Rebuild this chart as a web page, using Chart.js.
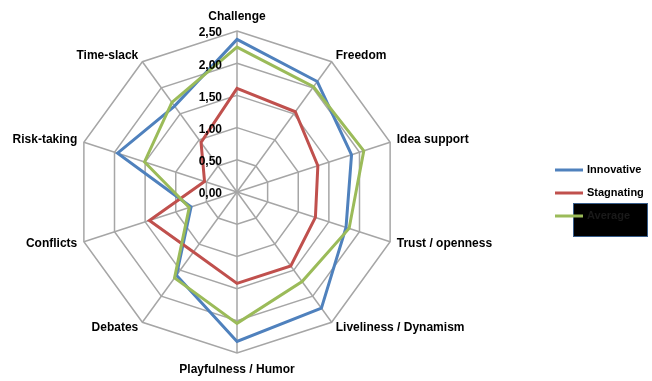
<!DOCTYPE html>
<html>
<head>
<meta charset="utf-8">
<script src="https://cdn.jsdelivr.net/npm/chart.js@4/dist/chart.umd.min.js"></script>
<style>
  html, body { margin: 0; padding: 0; background: #fff; }
  #wrap { width: 652px; height: 381px; }
</style>
</head>
<body>
<div id="wrap"><canvas id="chart" width="652" height="381"></canvas></div>
<script>
// categories around the radar, clockwise from the top
const categories = [
  "Challenge",
  "Freedom",
  "Idea support",
  "Trust / openness",
  "Liveliness / Dynamism",
  "Playfulness / Humor",
  "Debates",
  "Conflicts",
  "Risk-taking",
  "Time-slack"
];

// series values
const innovative = [2.37, 2.12, 1.87, 1.78, 2.23, 2.32, 1.60, 0.75, 1.95, 1.65];
const stagnating = [1.61, 1.54, 1.32, 1.28, 1.42, 1.42, 1.15, 1.43, 0.53, 0.95];
const average = [2.25, 2.02, 2.07, 1.83, 1.72, 2.04, 1.65, 0.78, 1.51, 1.72];

// tick labels on the radial axis
const tickValues = [0, 0.5, 1, 1.5, 2, 2.5];
const tickLabels = ["0,00", "0,50", "1,00", "1,50", "2,00", "2,50"];

const seriesNames = ["Innovative", "Stagnating", "Average"];
const seriesColors = ["#4F81BD", "#C0504D", "#9BBB59"];

const FONT = "bold 12px 'Liberation Sans', Arial, sans-serif";

//draws the category labels, tick labels and the legend
const extrasPlugin = {
  id: "extras",
  afterDatasetsDraw(chart) {
    const ctx = chart.ctx;
    const r = chart.scales.r;
    ctx.save();
    ctx.fillStyle = "#000";
    ctx.font = FONT;

    //tick labels, left of the vertical axis
    ctx.textAlign = "right";
    ctx.textBaseline = "middle";
    tickValues.forEach((v, i) => {
      const d = r.getDistanceFromCenterForValue(v);
      ctx.fillText(tickLabels[i], r.xCenter - 15, r.yCenter - d + 2);
    });

    //category labels
    categories.forEach((label, i) => {
      const p = r.getPointPosition(i, r.drawingArea + 7);
      const dx = p.x - r.xCenter;
      let y = p.y;
      if (Math.abs(dx) < 2) {
        ctx.textAlign = "center";
        y += p.y < r.yCenter ? -7 : 10;
      } else {
        ctx.textAlign = dx > 0 ? "left" : "right";
      }
      ctx.textBaseline = "middle";
      ctx.fillText(label, p.x, y);
    });

    //legend
    const lx = 555, ly = 170, gap = 23;
    ctx.font = "bold 11px 'Liberation Sans', Arial, sans-serif";
    ctx.textAlign = "left";
    // box over the third entry
    ctx.fillStyle = "#000";
    ctx.fillRect(573, 203, 74, 33);
    ctx.strokeStyle = "#385d8a";
    ctx.lineWidth = 1;
    ctx.strokeRect(573.5, 203.5, 74, 33);
    seriesNames.forEach((name, i) => {
      const y = ly + i * gap;
      ctx.strokeStyle = seriesColors[i];
      ctx.lineWidth = 3;
      ctx.beginPath();
      ctx.moveTo(lx, y);
      ctx.lineTo(lx + 28, y);
      ctx.stroke();
      ctx.fillStyle = i === 2 ? "#1a1a1a" : "#000";
      ctx.fillText(name, lx + 32, y);
    });
    ctx.restore();
  }
};

const ctx = document.getElementById("chart").getContext("2d");
new Chart(ctx, {
  type: "radar",
  data: {
    labels: categories,
    datasets: [
      { label: seriesNames[0], data: innovative, borderColor: seriesColors[0], order: 2 },
      { label: seriesNames[1], data: stagnating, borderColor: seriesColors[1], order: 1 },
      { label: seriesNames[2], data: average, borderColor: seriesColors[2], order: 0 }
    ].map((d) => Object.assign(d, {
      backgroundColor: "transparent",
      borderWidth: 3,
      pointRadius: 0,
      pointHoverRadius: 0,
      tension: 0,
      fill: false
    }))
  },
  options: {
    responsive: false,
    animation: false,
    layout: { padding: { left: 76, right: 254, top: 31, bottom: 28 } },
    plugins: {
      legend: { display: false },
      tooltip: { enabled: false }
    },
    scales: {
      r: {
        min: 0,
        max: 2.5,
        ticks: { display: false, stepSize: 0.5 },
        pointLabels: { display: false },
        grid: { color: "#a6a6a6", lineWidth: 1.5 },
        angleLines: { color: "#a6a6a6", lineWidth: 1.5 }
      }
    }
  },
  plugins: [extrasPlugin]
});
</script>
</body>
</html>
